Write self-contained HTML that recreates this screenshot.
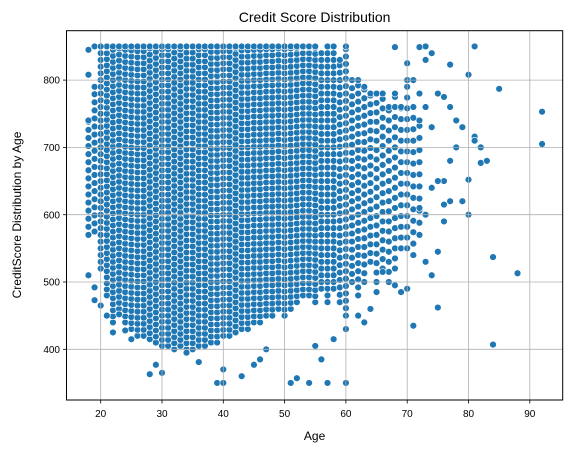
<!DOCTYPE html>
<html><head><meta charset="utf-8"><style>
html,body{margin:0;padding:0;background:#fff;}
svg{display:block;font-family:"Liberation Sans","DejaVu Sans",sans-serif;}
</style></head><body>
<svg id="chart" width="571" height="453" viewBox="0 0 571 453" xmlns="http://www.w3.org/2000/svg">
<rect width="571" height="453" fill="#fff"/>
<g id="points"></g>
<g id="grid"></g>
<rect x="66.5" y="30.7" width="496.2" height="369.3" fill="none" stroke="#000" stroke-width="1"/>
<g id="ticks"></g>
<text x="314.6" y="22" font-size="14" text-anchor="middle">Credit Score Distribution</text>
<text x="314.6" y="440" font-size="12" text-anchor="middle">Age</text>
<text x="21" y="215" font-size="12" text-anchor="middle" transform="rotate(-90 21 215)">CreditScore Distribution by Age</text>
</svg>
<script>
const xTicks=[20,30,40,50,60,70,80,90];
const yTicks=[400,500,600,700,800];
const bandAges=[18,19,20,21,22,23,24,25,26,27,28,29,30,31,32,33,34,35,36,37,38,39,40,41,42,43,44,45,46,47,48,49,50,51,52,53,54,55,56,57,58,59,60,61,62,63,64,65,66,67,68,69,70,71,72];
const bandLow=[570,575,520,480,440,460,440,430,420,420,415,410,405,405,400,405,400,400,405,405,410,410,420,420,425,430,430,440,440,450,450,460,450,460,470,480,480,470,490,470,490,470,450,500,480,500,530,500,520,500,520,550,550,540,570];
const bandHigh=[740,790,850,850,850,850,850,850,850,850,850,850,850,850,850,850,850,850,850,850,850,850,850,850,850,850,850,850,850,850,850,850,850,850,850,850,850,850,840,850,850,830,850,800,800,790,780,780,780,760,780,760,800,760,740];
const bandStep=[12,12,10,9,9,9,9,9,9,9,9,9,9,9,9,9,9,9,9,9,9,9,9,9,9,9,9,9,9,9,9,9,9,9,9,9,9,9,10,10,10,11,11,12,12,13,13,14,14,15,15,16,16,17,18];
const extraAges=[18,18,18,19,20,19,19,20,21,22,23,24,25,28,29,30,34,36,39,40,40,43,45,46,47,51,52,54,57,60,56,55,58,60,68,73,72,81,74,77,80,85,92,92,82,81,84,84,88,75,79,80,81,78,77,76,75,74,73,72,76,75,73,74,70,71,69,68,66,62,63,64,65,77,75,76,74,73,72,70,71,73,79,78,82,83,80,77,76];
const extraScores=[845,510,808,850,850,492,473,465,450,425,452,428,415,363,377,365,395,381,350,350,370,360,377,385,400,350,357,350,350,350,385,405,415,430,849,850,849,850,840,823,808,787,753,705,677,716,537,407,513,462,620,652,710,700,680,650,650,640,600,610,590,545,530,510,490,435,485,495,515,450,440,460,485,760,780,775,730,760,780,825,800,830,730,740,700,680,600,620,615];
const NS="http://www.w3.org/2000/svg";
function xS(a){return 100.7+(a-20)*6.13;}
function yS(s){return 349.3-(s-400)*0.673;}
const grid=document.getElementById('grid'),ticks=document.getElementById('ticks'),pts=document.getElementById('points');
function mk(tag,attrs,parent){const e=document.createElementNS(NS,tag);for(const k in attrs)e.setAttribute(k,attrs[k]);parent.appendChild(e);return e;}
xTicks.forEach(v=>{const x=xS(v);
 const g=mk('line',{x1:x,x2:x,y1:30.7,y2:400,stroke:'#b0b0b0','stroke-width':0.8},grid);
 
 
 const t=mk('line',{x1:x,x2:x,y1:400,y2:403.5,stroke:'#000','stroke-width':0.8},ticks);
 
 
 const l=mk('text',{x:x,y:417,'font-size':10,'text-anchor':'middle'},ticks);l.textContent=v;
 
 
});
yTicks.forEach(v=>{const y=yS(v);
 const g=mk('line',{x1:66.5,x2:562.7,y1:y,y2:y,stroke:'#b0b0b0','stroke-width':0.8},grid);
 
 
 const t=mk('line',{x1:63,x2:66.5,y1:y,y2:y,stroke:'#000','stroke-width':0.8},ticks);
 
 
 const l=mk('text',{x:60,y:y+3.6,'font-size':10,'text-anchor':'end'},ticks);l.textContent=v;
 
 
});
function dot(a,s){const c=mk('circle',{cx:xS(a),cy:yS(s),r:3.4,fill:'#1f77b4',stroke:'#fff','stroke-width':0.6},pts);
 
 }
bandAges.forEach((a,i)=>{for(let s=bandLow[i];s<=bandHigh[i];s+=bandStep[i])dot(a,s);dot(a,bandHigh[i]);});
extraAges.forEach((a,i)=>dot(a,extraScores[i]));
</script>
</body></html>
